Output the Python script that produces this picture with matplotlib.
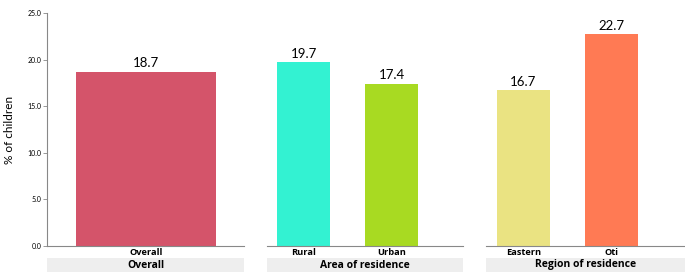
import matplotlib
matplotlib.use("Agg")
import matplotlib.pyplot as plt
from matplotlib.patches import Rectangle

plt.rcParams['font.family'] = ['Lato', 'DejaVu Sans']
bold_font = ['Open Sans', 'DejaVu Sans']

# data
groups = ["Overall", "Area of residence", "Region of residence"]
categories = [["Overall"], ["Rural", "Urban"], ["Eastern", "Oti"]]
values = [[18.7], [19.7, 17.4], [16.7, 22.7]]
colors = [["#D4546A"], ["#33F2D2", "#A8DA22"], ["#EAE382", "#FF7A54"]]
yticks = [0, 5, 10, 15, 20, 25]

W, H = 685, 275
fig = plt.figure(figsize=(W / 100, H / 100), dpi=100)

# panel placement in pixels: left, right, xlim
panels = [(47, 244, (-0.425, 0.42)),
          (267, 463, (-0.415, 1.81)),
          (486, 685, (-0.426, 1.84))]
top, bottom = 13, 246

for i, (x0, x1, xl) in enumerate(panels):
    ax = fig.add_axes([x0 / W, (H - bottom) / H, (x1 - x0) / W, (bottom - top) / H])
    x = list(range(len(categories[i])))
    bars = ax.bar(x, values[i], width=0.6, color=colors[i])
    for b, v in zip(bars, values[i]):
        ax.text(b.get_x() + b.get_width() / 2, v + 0.3, f"{v:.1f}",
                ha="center", va="bottom", fontsize=9.5)
    ax.set_xlim(*xl)
    ax.set_ylim(0, 25)
    ax.set_xticks(x)
    ax.set_xticklabels(categories[i], fontsize=6.7, fontweight="bold", family=bold_font)
    ax.tick_params(axis="x", length=0, pad=1.5)
    for s in ["top", "right"]:
        ax.spines[s].set_visible(False)
    ax.spines["bottom"].set_color("#888888")
    ax.spines["bottom"].set_linewidth(0.8)
    if i == 0:
        ax.spines["left"].set_color("#888888")
        ax.spines["left"].set_linewidth(0.8)
        ax.set_yticks(yticks)
        ax.set_yticklabels([f"{t:.1f}" for t in yticks], fontsize=5)
        ax.tick_params(axis="y", length=3, width=0.6, color="#888888", pad=1)
        ax.set_ylabel("% of children", fontsize=8.5)
        ax.yaxis.set_label_coords(-32 / (x1 - x0), 0.5)
    else:
        ax.spines["left"].set_visible(False)
        ax.set_yticks([])
    # group strip
    h = bottom - top
    ax.add_patch(Rectangle((0, -26 / h), 1, 14 / h, transform=ax.transAxes,
                           facecolor="#EEEEEE", edgecolor="none", clip_on=False))
    ax.text(0.5, -19 / h, groups[i], transform=ax.transAxes, ha="center",
            va="center", fontsize=7.5, fontweight="bold", family=bold_font)

fig.savefig("out.png", dpi=100)
